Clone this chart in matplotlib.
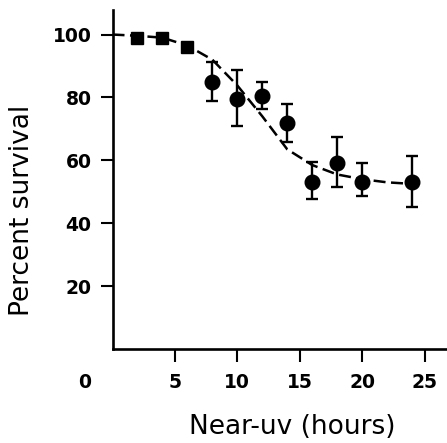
import matplotlib
matplotlib.use('Agg')
import matplotlib.pyplot as plt

# ---- data ----
sq_hours = [2, 4, 6]
sq_survival = [99, 99, 96]

pt_hours = [8, 10, 12, 14, 16, 18, 20, 24]
pt_survival = [85, 79.5, 80.5, 72, 53, 59, 53, 53]
pt_err_low = [6, 8.5, 4.2, 6.2, 5.2, 7.5, 4.3, 8]
pt_err_high = [6.3, 9.3, 4.5, 6, 6.4, 8.5, 6.3, 8.5]

fit_hours = [0, 2, 4, 6, 8, 10, 12, 14, 16, 18, 20, 22, 24]
fit_survival = [100, 99.6, 99, 96.5, 92, 83.8, 74, 63.5, 58.5, 55.5, 54, 53, 52.5]

xticks = [5, 10, 15, 20, 25]
yticks = [20, 40, 60, 80, 100]

# ---- figure ----
plt.rcParams['font.family'] = ['DejaVu Sans']
fig = plt.figure(figsize=(4.47, 4.43), dpi=100)
ax = fig.add_axes([0.2517, 0.2122, 0.7483, 0.7652])

ax.plot(fit_hours, fit_survival, color='black', lw=1.8,
        dashes=(4.8, 2.2), zorder=2)
ax.plot(sq_hours, sq_survival, linestyle='none', marker='s',
        markersize=9, color='black', zorder=3)
ax.errorbar(pt_hours, pt_survival, yerr=[pt_err_low, pt_err_high],
            fmt='o', color='black', markersize=10.5, elinewidth=1.7,
            capsize=4.5, capthick=1.7, zorder=3)

ax.set_xlim(0, 26.8)
ax.set_ylim(0, 107.8)

for side in ('top', 'right'):
    ax.spines[side].set_visible(False)
for side in ('left', 'bottom'):
    ax.spines[side].set_linewidth(1.9)

ax.set_xticks(xticks)
ax.set_yticks(yticks)
ax.tick_params(axis='both', direction='out', length=9, width=1.5,
               labelsize=13.5, pad=8)
ax.tick_params(axis='y', pad=6)
for lab in ax.get_xticklabels() + ax.get_yticklabels():
    lab.set_fontweight('bold')

# origin label sits off the axis, below-left
fig.text(85 / 447, 1 - 382 / 443, '0', fontsize=13.5, fontweight='bold',
         ha='center', va='center')

fig.text(292 / 447, 1 - 427 / 443, 'Near-uv (hours)', fontsize=19,
         ha='center', va='center')
fig.text(22 / 447, 1 - 210 / 443, 'Percent survival', fontsize=19,
         ha='center', va='center', rotation=90)

fig.savefig('out.png', dpi=100)
